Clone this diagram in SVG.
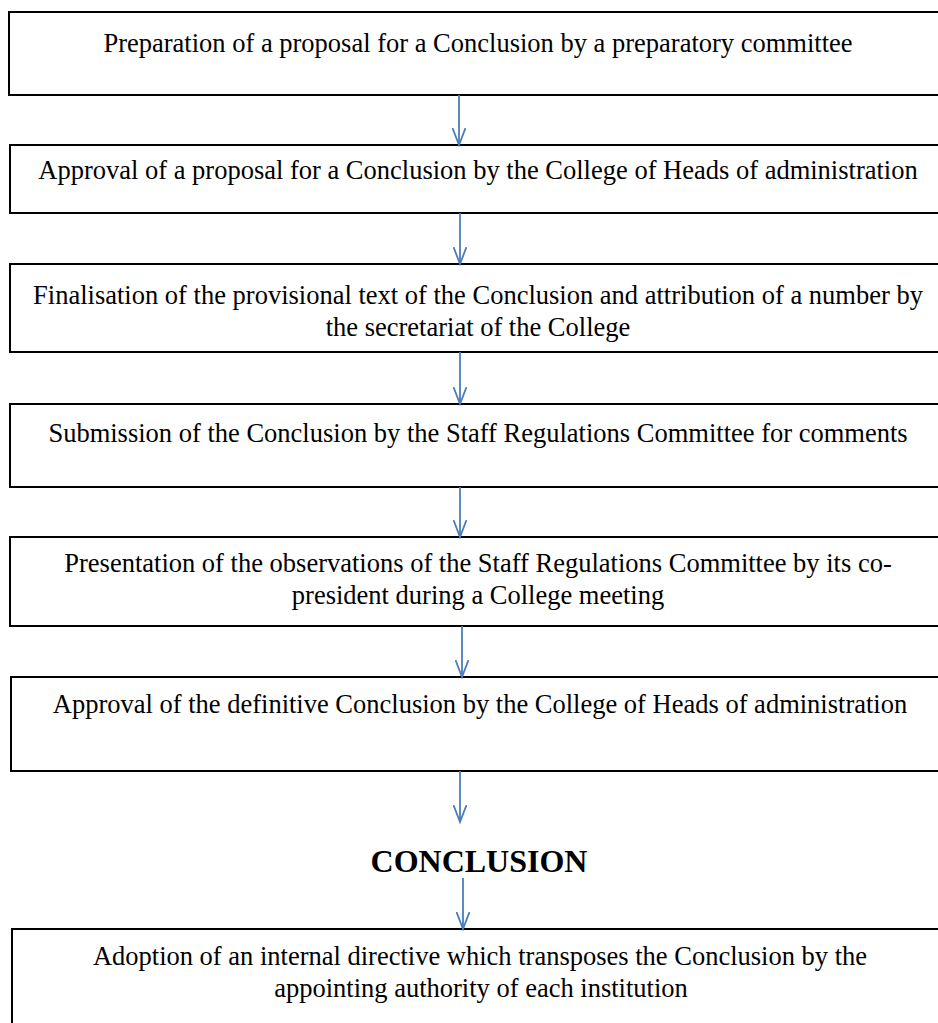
<svg xmlns="http://www.w3.org/2000/svg" width="938" height="1023" viewBox="0 0 938 1023">
<style>
.box{fill:#fff;stroke:#000;stroke-width:2}
.t{font-family:'Liberation Serif',serif;font-size:26.5px;fill:#000;text-anchor:middle}
.b{font-family:'Liberation Serif',serif;font-size:32px;font-weight:bold;fill:#000;text-anchor:middle}
.c{stroke:#4a7ebb;stroke-width:1.8;fill:none}
</style>
<defs>
<marker id="ah" markerWidth="20" markerHeight="14" refX="17" refY="7" orient="auto" markerUnits="userSpaceOnUse" viewBox="0 0 20 14">
<path d="M0,0.5 L17,7 L0,13.5" fill="none" stroke="#4a7ebb" stroke-width="1.8"/>
</marker>
</defs>
<rect width="938" height="1023" fill="#fff"/>
<g id="n1"><rect class="box" x="9" y="12" width="945" height="83"/><text class="t" x="478" y="52">Preparation of a proposal for a Conclusion by a preparatory committee</text></g>
<g id="n2"><rect class="box" x="10" y="145" width="945" height="68"/><text class="t" x="478" y="179">Approval of a proposal for a Conclusion by the College of Heads of administration</text></g>
<g id="n3"><rect class="box" x="10" y="264" width="945" height="88"/><text class="t" x="478" y="304">Finalisation of the provisional text of the Conclusion and attribution of a number by</text><text class="t" x="478" y="336">the secretariat of the College</text></g>
<g id="n4"><rect class="box" x="10" y="404" width="945" height="83"/><text class="t" x="478" y="442">Submission of the Conclusion by the Staff Regulations Committee for comments</text></g>
<g id="n5"><rect class="box" x="10" y="537" width="945" height="89"/><text class="t" x="478" y="572">Presentation of the observations of the Staff Regulations Committee by its co-</text><text class="t" x="478" y="604">president during a College meeting</text></g>
<g id="n6"><rect class="box" x="11" y="677" width="945" height="94"/><text class="t" x="480" y="713">Approval of the definitive Conclusion by the College of Heads of administration</text></g>
<g id="n7"><text class="b" x="479" y="872">CONCLUSION</text></g>
<g id="n8"><rect class="box" x="12" y="929" width="945" height="100"/><text class="t" x="480" y="965">Adoption of an internal directive which transposes the Conclusion by the</text><text class="t" x="481" y="997">appointing authority of each institution</text></g>
<g id="connectors">
<line class="c" x1="459" y1="95" x2="459" y2="145" marker-end="url(#ah)"/>
<line class="c" x1="460" y1="213" x2="460" y2="264" marker-end="url(#ah)"/>
<line class="c" x1="460" y1="352" x2="460" y2="404" marker-end="url(#ah)"/>
<line class="c" x1="460" y1="487" x2="460" y2="537" marker-end="url(#ah)"/>
<line class="c" x1="462" y1="626" x2="462" y2="677" marker-end="url(#ah)"/>
<line class="c" x1="460" y1="771" x2="460" y2="822" marker-end="url(#ah)"/>
<line class="c" x1="463" y1="878" x2="463" y2="929" marker-end="url(#ah)"/>
</g>
</svg>
